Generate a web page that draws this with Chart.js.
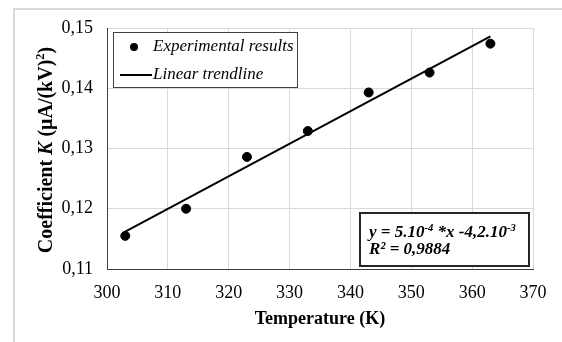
<!DOCTYPE html>
<html>
<head>
<meta charset="utf-8">
<script src="https://cdn.jsdelivr.net/npm/chart.js@4/dist/chart.umd.min.js"></script>
<style>
    body { margin: 0; background: #ffffff; }
    #wrap { width: 562px; height: 342px; }
</style>
</head>
<body>
<div id="wrap"><canvas id="kChart" width="562" height="342"></canvas></div>
<script>
// measured coefficient K against temperature
const temperatures = [303, 313, 323, 333, 343, 353, 363];
const coefficients = [0.1155, 0.1200, 0.1286, 0.1329, 0.1393, 0.1426, 0.1474];

// fitted straight line, drawn between the first and last temperature
const trendTemps = [303, 363];
const trendValues = [0.1162, 0.1486];

const legendLabels = ["Experimental results", "Linear trendline"];

const SERIF = "'Liberation Serif', 'Times New Roman', serif";

function toPoints(xs, ys) {
    return xs.map((x, i) => ({ x: x, y: ys[i] }));
}

// draws a run of [text, isSuperscript] pieces starting at x
function drawRuns(ctx, runs, x, y, size) {
    runs.forEach((run) => {
        let sup = run[1];
        let fs = sup ? size * 0.62 : size;
        ctx.font = "italic bold " + fs + "px " + SERIF;
        ctx.fillText(run[0], x, sup ? y - size * 0.38 : y);
        x += ctx.measureText(run[0]).width;
    });
}

const decorations = {
    id: 'decorations',
    beforeDraw(chart) {
        let ctx = chart.ctx;
        ctx.save();
        ctx.fillStyle = '#ffffff';
        ctx.fillRect(0, 0, chart.width, chart.height);
        // outer frame of the chart object
        ctx.strokeStyle = '#d9d9d9';
        ctx.lineWidth = 2;
        ctx.beginPath();
        ctx.moveTo(14, chart.height + 2);
        ctx.lineTo(14, 9);
        ctx.lineTo(chart.width + 2, 9);
        ctx.stroke();
        ctx.restore();
    },
    afterDraw(chart) {
        let ctx = chart.ctx;
        ctx.save();
        ctx.fillStyle = '#000000';

        // y axis title, with the italic K
        ctx.translate(47, 150);
        ctx.rotate(-Math.PI / 2);
        let parts = [
            ["Coefficient ", "bold"],
            ["K", "italic bold"],
            [" (\u03bcA/(kV)", "bold"],
            ["2", "bold", true],
            [")", "bold"]
        ];
        let size = 20;
        let total = 0;
        parts.forEach((p) => {
            ctx.font = p[1] + " " + (p[2] ? size * 0.62 : size) + "px " + SERIF;
            total += ctx.measureText(p[0]).width;
        });
        let px = -total / 2;
        ctx.textBaseline = 'middle';
        parts.forEach((p) => {
            let fs = p[2] ? size * 0.62 : size;
            ctx.font = p[1] + " " + fs + "px " + SERIF;
            ctx.fillText(p[0], px, p[2] ? -size * 0.3 : 0);
            px += ctx.measureText(p[0]).width;
        });
        ctx.restore();

        // legend box
        ctx.save();
        ctx.strokeStyle = '#404040';
        ctx.lineWidth = 1;
        ctx.fillStyle = '#ffffff';
        ctx.fillRect(113.5, 32.5, 184, 55);
        ctx.strokeRect(113.5, 32.5, 184, 55);
        ctx.fillStyle = '#000000';
        ctx.beginPath();
        ctx.arc(134, 47, 4, 0, Math.PI * 2);
        ctx.fill();
        ctx.strokeStyle = '#000000';
        ctx.lineWidth = 2;
        ctx.beginPath();
        ctx.moveTo(120, 75);
        ctx.lineTo(152, 75);
        ctx.stroke();
        ctx.font = "italic 17px " + SERIF;
        ctx.textBaseline = 'middle';
        ctx.fillText(legendLabels[0], 153, 47);
        ctx.fillText(legendLabels[1], 153, 75);
        ctx.restore();

        // equation box
        ctx.save();
        ctx.fillStyle = '#ffffff';
        ctx.fillRect(360, 213, 169, 53);
        ctx.strokeStyle = '#262626';
        ctx.lineWidth = 2;
        ctx.strokeRect(360, 213, 169, 53);
        ctx.fillStyle = '#000000';
        ctx.textBaseline = 'alphabetic';
        drawRuns(ctx, [["y = 5.10", false], ["-4", true], [" *x -4,2.10", false], ["-3", true]], 369, 237, 17);
        drawRuns(ctx, [["R\u00b2 = 0,9884", false]], 369, 254, 17);
        ctx.restore();
    }
};

const ctx = document.getElementById('kChart').getContext('2d');
new Chart(ctx, {
    type: 'scatter',
    data: {
        datasets: [{
            label: legendLabels[0],
            data: toPoints(temperatures, coefficients),
            backgroundColor: '#000000',
            borderColor: '#000000',
            pointRadius: 4.5,
            pointHoverRadius: 4.5,
            order: 1
        }, {
            label: legendLabels[1],
            data: toPoints(trendTemps, trendValues),
            showLine: true,
            borderColor: '#000000',
            borderWidth: 2,
            pointRadius: 0,
            fill: false,
            order: 2
        }]
    },
    options: {
        responsive: false,
        animation: false,
        events: [],
        layout: {
            padding: { top: 28, right: 29, left: 0, bottom: 12 }
        },
        plugins: {
            legend: { display: false },
            tooltip: { enabled: false }
        },
        scales: {
            x: {
                type: 'linear',
                min: 300,
                max: 370,
                afterFit(scale) { scale.height = 61; },
                ticks: {
                    stepSize: 10,
                    padding: 13,
                    color: '#000000',
                    font: { family: SERIF, size: 18 }
                },
                grid: { color: '#d9d9d9', drawTicks: false },
                border: { color: '#404040', width: 1 },
                title: {
                    display: true,
                    text: 'Temperature (K)',
                    color: '#000000',
                    padding: { top: 4, bottom: 0 },
                    font: { family: SERIF, size: 18, weight: 'bold' }
                }
            },
            y: {
                min: 0.11,
                max: 0.15,
                afterFit(scale) { scale.width = 107; },
                ticks: {
                    stepSize: 0.01,
                    padding: 14,
                    color: '#000000',
                    font: { family: SERIF, size: 18 },
                    callback: (v) => v.toFixed(2).replace('.', ',')
                },
                grid: { color: '#d9d9d9', drawTicks: false },
                border: { color: '#404040', width: 1 }
            }
        }
    },
    plugins: [decorations]
});
</script>
</body>
</html>
